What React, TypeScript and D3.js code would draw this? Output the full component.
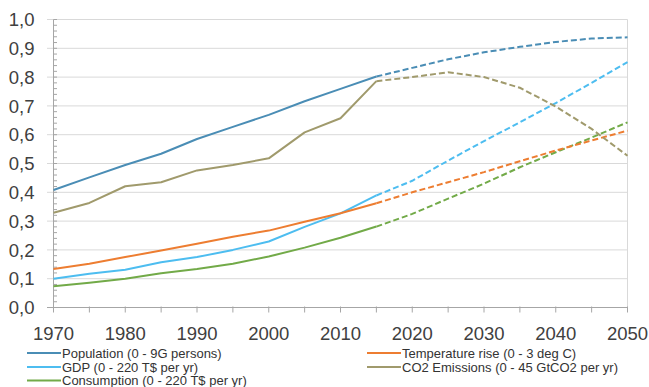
import React from "react";
import * as d3 from "d3";

const years = [1970, 1975, 1980, 1985, 1990, 1995, 2000, 2005, 2010, 2015, 2020, 2025, 2030, 2035, 2040, 2045, 2050];
const population = [0.408, 0.452, 0.495, 0.534, 0.585, 0.627, 0.669, 0.716, 0.759, 0.802, 0.832, 0.862, 0.886, 0.905, 0.922, 0.934, 0.938];
const gdp = [0.1, 0.117, 0.131, 0.157, 0.175, 0.2, 0.229, 0.28, 0.327, 0.389, 0.44, 0.51, 0.578, 0.643, 0.71, 0.78, 0.852];
const temperature = [0.134, 0.152, 0.175, 0.198, 0.221, 0.246, 0.267, 0.298, 0.327, 0.362, 0.4, 0.435, 0.47, 0.508, 0.545, 0.58, 0.614];
const co2 = [0.329, 0.363, 0.421, 0.435, 0.476, 0.495, 0.518, 0.608, 0.657, 0.786, 0.8, 0.817, 0.8, 0.763, 0.698, 0.62, 0.527];
const consumption = [0.074, 0.086, 0.1, 0.119, 0.134, 0.152, 0.177, 0.208, 0.242, 0.281, 0.325, 0.378, 0.43, 0.487, 0.539, 0.59, 0.643];
const splitYear = 2015;
const yTicks = [0, 0.1, 0.2, 0.3, 0.4, 0.5, 0.6, 0.7, 0.8, 0.9, 1.0];
const xTickLabels = [1970, 1980, 1990, 2000, 2010, 2020, 2030, 2040, 2050];

const series = [
  { name: "Population (0 - 9G persons)", values: population, color: "#4a8db5", col: 0, row: 0 },
  { name: "GDP (0 - 220 T$ per yr)", values: gdp, color: "#4dbdf0", col: 0, row: 1 },
  { name: "Consumption (0 - 220 T$ per yr)", values: consumption, color: "#72aa48", col: 0, row: 2 },
  { name: "Temperature rise (0 - 3 deg C)", values: temperature, color: "#ed7d31", col: 1, row: 0 },
  { name: "CO2 Emissions (0 - 45 GtCO2 per yr)", values: co2, color: "#a09a6c", col: 1, row: 1 },
];

const W = 649, H = 387;
const left = 53.5, right = 627.5, top = 19.5, bottom = 307.5;

export default function App() {
  const x = d3.scaleLinear().domain([1970, 2050]).range([left, right]);
  const y = d3.scaleLinear().domain([0, 1]).range([bottom, top]);
  const line = d3.line<[number, number]>().x((d) => x(d[0])).y((d) => y(d[1]));
  const font = "Liberation Sans, Arial, sans-serif";
  const minorY = d3.range(0, 1.0001, 0.02);
  const xMinor = d3.range(1970, 2051, 5);
  const legendColX = [27, 367];
  const legendRowY = [353, 367, 380.5];

  return (
    <svg width={W} height={H} style={{ position: "absolute", left: 0, top: 0 }}>
      <rect x={0} y={0} width={W} height={H} fill="#fff" />
      {yTicks.map((t) => (
        <line key={"g" + t} x1={47} x2={right} y1={y(t)} y2={y(t)} stroke="#d9d9d9" strokeWidth={1} />
      ))}
      <line x1={right} x2={right} y1={top} y2={bottom} stroke="#d9d9d9" strokeWidth={1} />
      {minorY.map((t, i) => (
        <line key={"m" + i} x1={left} x2={left + 3.5} y1={y(t)} y2={y(t)} stroke="#a6a6a6" strokeWidth={1} />
      ))}
      <line x1={left} x2={left} y1={top} y2={bottom} stroke="#a6a6a6" strokeWidth={1} />
      <line x1={47} x2={right} y1={bottom} y2={bottom} stroke="#a6a6a6" strokeWidth={1} />
      {xMinor.map((t) => (
        <line key={"xt" + t} x1={x(t)} x2={x(t)} y1={bottom - 1} y2={bottom + 5} stroke="#a6a6a6" strokeWidth={1} />
      ))}
      {yTicks.map((t) => (
        <text key={"yl" + t} x={34.5} y={y(t)} dy="0.36em" textAnchor="end" fontFamily={font} fontSize={18.5} fill="#404040">
          {d3.format(".1f")(t).replace(".", ",")}
        </text>
      ))}
      {xTickLabels.map((t) => (
        <text key={"xl" + t} x={x(t)} y={339.5} textAnchor="middle" fontFamily={font} fontSize={18.5} fill="#404040">
          {t}
        </text>
      ))}
      {series.map((s) => {
        const pts: [number, number][] = years.map((yr, i) => [yr, s.values[i]]);
        const solid = pts.filter((p) => p[0] <= splitYear);
        const dashed = pts.filter((p) => p[0] >= splitYear);
        return (
          <g key={s.name}>
            <path d={line(solid) || ""} fill="none" stroke={s.color} strokeWidth={2} strokeLinejoin="round" />
            <path d={line(dashed) || ""} fill="none" stroke={s.color} strokeWidth={2} strokeDasharray="6 3" />
          </g>
        );
      })}
      {series.map((s) => (
        <g key={"lg" + s.name}>
          <line x1={legendColX[s.col]} x2={legendColX[s.col] + 34} y1={legendRowY[s.row]} y2={legendRowY[s.row]} stroke={s.color} strokeWidth={2} />
          <text x={legendColX[s.col] + 35} y={legendRowY[s.row]} dy="0.36em" fontFamily={font} fontSize={13} fill="#333">
            {s.name}
          </text>
        </g>
      ))}
    </svg>
  );
}
